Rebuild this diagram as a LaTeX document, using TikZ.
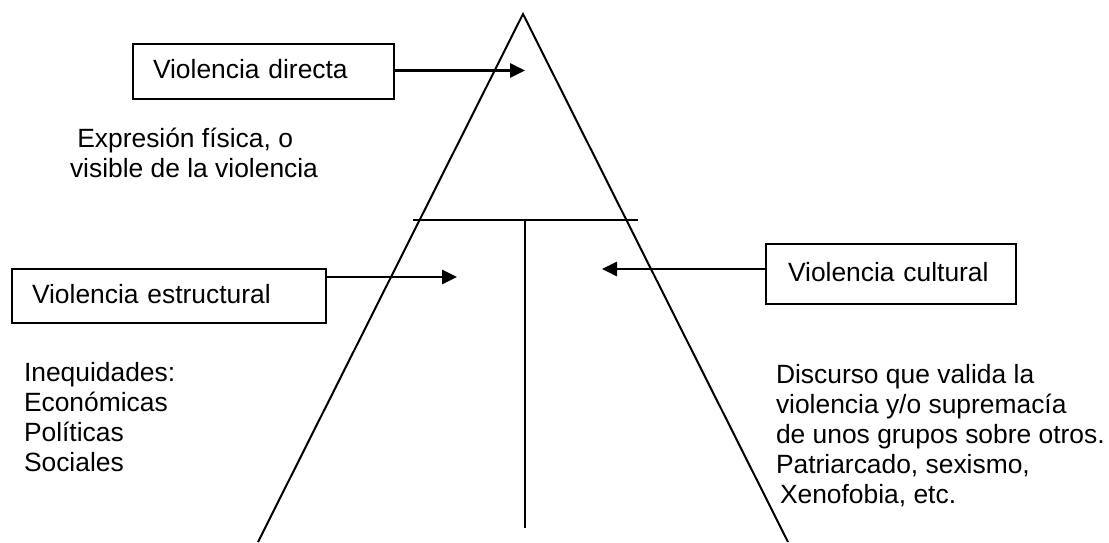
\documentclass[tikz,border=0pt]{standalone}
\usepackage{fontspec}
\setmainfont{Liberation Sans}
\usetikzlibrary{arrows.meta}

\begin{document}
\begin{tikzpicture}[x=1pt,y=-1pt,>={Triangle[length=15pt,width=14pt]},line width=2pt,
    every node/.style={font=\fontsize{26.4}{30}\selectfont},
    label box/.style={draw,anchor=north west,align=left,inner xsep=20pt,text height=19pt,text depth=5pt},
    note/.style={anchor=north west,align=left,inner sep=0pt},
    arrow/.style={->,line width=2.7pt}]
        \useasboundingbox (0,0) rectangle (1109,542);

        % triangle and the cross inside
        \coordinate (apex) at (523,14);
        \coordinate (baseL) at (258,542);
        \coordinate (baseR) at (788,542);
        \coordinate (barL) at (413,220);
        \coordinate (barR) at (638,220);
        \coordinate (barM) at (525,220);
        \coordinate (stem) at (525,528);
        \draw (baseL) -- (apex) -- (baseR);
        \draw (barL) -- (barR);
        \draw (barM) -- (stem);

        % boxes
        \node[label box,text width=221pt,minimum height=55pt] (directa) at (132,43) {Violencia directa};
        \node[label box,text width=274pt,minimum height=54pt] (estructural) at (11,268) {Violencia estructural};
        \node[label box,inner xsep=22pt,text width=206pt,minimum height=60pt] (cultural) at (765,243) {Violencia cultural};

        % texts
        \node[note] (fisica) at (69,127.5) {\hspace{7.3pt}Expresión física, o\\visible de la violencia};
        \node[note] (inequidades) at (23,361) {Inequidades:\\Económicas\\Políticas\\Sociales};
        \node[note] (discurso) at (775,363) {Discurso que valida la\\violencia y/o supremacía\\de unos grupos sobre otros.\\Patriarcado, sexismo,\\\hspace{4pt}Xenofobia, etc.};

        % arrows
        \coordinate (directa tip) at (525,70.5);
        \coordinate (estructural tip) at (457,277);
        \coordinate (cultural tip) at (602,269);
        \path[arrow]
            (directa.east |- directa tip) edge (directa tip)
            (estructural.east |- estructural tip) edge (estructural tip)
            (cultural.west |- cultural tip) edge (cultural tip);
    \end{tikzpicture}
\end{document}
